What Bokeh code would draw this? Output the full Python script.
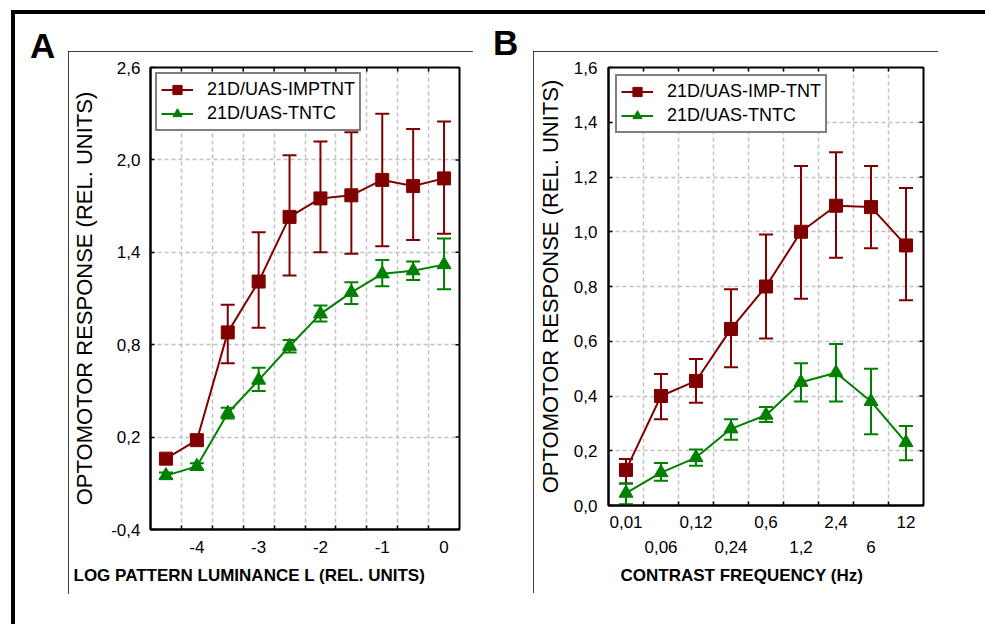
import math
from bokeh.plotting import figure
from bokeh.models import (Range1d, FixedTicker, LinearAxis, Whisker, TeeHead, Title,
                          ColumnDataSource, CustomJSTickFormatter, Div, Spacer)
from bokeh.layouts import row
from bokeh.embed import file_html
from bokeh.resources import INLINE

FONT = "Liberation Sans"
RED = "#800000"
GREEN = "#008000"
GRID = "#c0c0c0"

# ---------------- data: panel A ----------------
a_x = [-4.5, -4.0, -3.5, -3.0, -2.5, -2.0, -1.5, -1.0, -0.5, 0.0]
a_imp = [0.06, 0.18, 0.88, 1.21, 1.63, 1.75, 1.77, 1.87, 1.83, 1.88]
a_imp_hi = [0.08, 0.21, 1.06, 1.53, 2.03, 2.12, 2.18, 2.30, 2.20, 2.25]
a_imp_lo = [0.04, 0.15, 0.68, 0.91, 1.25, 1.40, 1.39, 1.44, 1.48, 1.52]
a_tntc = [-0.05, 0.01, 0.355, 0.57, 0.79, 1.00, 1.14, 1.26, 1.28, 1.32]
a_tntc_hi = [-0.03, 0.03, 0.39, 0.65, 0.83, 1.055, 1.205, 1.35, 1.34, 1.49]
a_tntc_lo = [-0.07, -0.01, 0.32, 0.50, 0.75, 0.95, 1.065, 1.18, 1.22, 1.16]
a_xticks = [-4, -3, -2, -1, 0]
a_yticks = [-0.4, 0.2, 0.8, 1.4, 2.0, 2.6]

# ---------------- data: panel B ----------------
b_labels = ["0,01", "0,06", "0,12", "0,24", "0,6", "1,2", "2,4", "6", "12"]
b_imp = [0.13, 0.40, 0.455, 0.645, 0.80, 1.00, 1.095, 1.09, 0.95]
b_imp_hi = [0.17, 0.48, 0.535, 0.79, 0.99, 1.24, 1.29, 1.24, 1.16]
b_imp_lo = [0.08, 0.315, 0.375, 0.505, 0.61, 0.755, 0.905, 0.94, 0.75]
b_tntc = [0.045, 0.12, 0.175, 0.28, 0.33, 0.45, 0.485, 0.38, 0.23]
b_tntc_hi = [0.08, 0.155, 0.205, 0.315, 0.36, 0.52, 0.59, 0.50, 0.29]
b_tntc_lo = [0.005, 0.09, 0.145, 0.24, 0.305, 0.38, 0.38, 0.26, 0.165]
b_yticks = [0.0, 0.2, 0.4, 0.6, 0.8, 1.0, 1.2, 1.4, 1.6]

YLABEL = "OPTOMOTOR RESPONSE (REL. UNITS)"
XLABEL_A = "LOG PATTERN LUMINANCE L (REL. UNITS)"
XLABEL_B = "CONTRAST FREQUENCY (Hz)"
NAME_IMP_A = "21D/UAS-IMPTNT"
NAME_IMP_B = "21D/UAS-IMP-TNT"
NAME_TNTC = "21D/UAS-TNTC"

comma_fmt = CustomJSTickFormatter(code="return tick.toFixed(1).replace('.', ',');")


def style_axis(ax):
    ax.axis_line_color = "black"
    ax.axis_line_width = 2
    ax.major_tick_line_color = "black"
    ax.major_tick_line_width = 1.5
    ax.major_tick_in = 4
    ax.major_tick_out = 0
    ax.minor_tick_line_color = "black"
    ax.minor_tick_line_width = 1.5
    ax.minor_tick_in = 4
    ax.minor_tick_out = 0
    ax.major_label_text_font = FONT
    ax.major_label_text_font_size = "17px"
    ax.major_label_text_color = "black"


def make_fig(w, h, xr, yr, mbl, mbr, mbt, mbb, margin):
    p = figure(width=w, height=h, x_range=xr, y_range=yr, output_backend="svg",
               toolbar_location=None, min_border_left=mbl, min_border_right=mbr,
               min_border_top=mbt, min_border_bottom=mbb, frame_align=False,
               background_fill_color="white", border_fill_color="white",
               outline_line_color="black", outline_line_width=2, margin=margin,
               styles={"outline": "2px solid black", "outline-offset": "-2px"})
    for g in (p.xgrid[0], p.ygrid[0]):
        g.grid_line_color = GRID
        g.grid_line_width = 1.5
        g.grid_line_dash = "4 3"
    return p


def inner_ticks(p, xticks, yticks):
    # inward tick marks on the top and right frame edges (half of each dash is clipped)
    xr, yr = p.x_range, p.y_range
    p.scatter(xticks, [yr.end] * len(xticks), marker="dash", angle=math.pi / 2, size=8,
              line_color="black", line_width=1.5)
    p.scatter([xr.end] * len(yticks), yticks, marker="dash", size=8,
              line_color="black", line_width=1.5)


def add_series(p, xs, ys, hi, lo, color, marker, size, label):
    src = ColumnDataSource(dict(x=xs, y=ys, hi=hi, lo=lo))
    w = Whisker(base="x", upper="hi", lower="lo", source=src, line_color=color, line_width=2,
                upper_head=TeeHead(size=14, line_color=color, line_width=2),
                lower_head=TeeHead(size=14, line_color=color, line_width=2))
    p.add_layout(w)
    p.line("x", "y", source=src, line_color=color, line_width=2, legend_label=label)
    p.scatter("x", "y", source=src, marker=marker, size=size, color=color, legend_label=label)


def style_legend(p, margin):
    lg = p.legend[0]
    lg.location = "top_left"
    lg.margin = margin
    lg.padding = 4
    lg.spacing = 1
    lg.border_line_color = "black"
    lg.border_line_width = 2
    lg.background_fill_color = "white"
    lg.background_fill_alpha = 1
    lg.label_text_font = FONT
    lg.label_text_font_size = "18px"
    lg.label_text_color = "black"
    lg.glyph_width = 32
    lg.glyph_height = 23
    lg.label_height = 23
    lg.label_standoff = 14


def style_yaxis(ax, standoff):
    ax.axis_label = YLABEL
    ax.axis_label_text_font = FONT
    ax.axis_label_text_font_size = "22px"
    ax.axis_label_text_font_style = "normal"
    ax.axis_label_text_color = "black"
    ax.axis_label_standoff = standoff


def xlabel_title(text, offset):
    return Title(text=text, align="left", offset=offset, text_font=FONT,
                 text_font_size="17px", text_font_style="bold", text_color="black",
                 standoff=16)


def letter(text, w, h, pad_top, pad_left):
    html = ('<div style="padding:%dpx 0 0 %dpx;font-family:\'Liberation Sans\';'
            'font-size:35px;font-weight:bold;line-height:35px;color:black;">%s</div>'
            % (pad_top, pad_left, text))
    return Div(text=html, width=w, height=h, margin=(0, 0, 0, 0))


# ---------------- panel A ----------------
pA = make_fig(405, 543, Range1d(-4.75, 0.25), Range1d(-0.4, 2.6), 82, 14, 16, 65,
              (37, 0, 30, 0))
a_bounds = [(a_x[i] + a_x[i + 1]) / 2 for i in range(len(a_x) - 1)]
pA.xgrid[0].ticker = FixedTicker(ticks=a_bounds)
pA.ygrid[0].ticker = FixedTicker(ticks=a_yticks[1:-1])

axA = pA.xaxis[0]
axA.ticker = FixedTicker(ticks=a_xticks, minor_ticks=a_bounds)
axA.formatter = CustomJSTickFormatter(code="return tick.toFixed(0);")
style_axis(axA)
axA.major_tick_in = 0
axA.major_label_standoff = 11

ayA = pA.yaxis[0]
ayA.ticker = FixedTicker(ticks=a_yticks)
ayA.formatter = comma_fmt
style_axis(ayA)
ayA.major_label_standoff = 10
style_yaxis(ayA, 11)

pA.add_layout(xlabel_title(XLABEL_A, -77), "below")
inner_ticks(pA, a_bounds, a_yticks)

add_series(pA, a_x, a_imp, a_imp_hi, a_imp_lo, RED, "square", 13, NAME_IMP_A)
add_series(pA, a_x, a_tntc, a_tntc_hi, a_tntc_lo, GREEN, "triangle", 14, NAME_TNTC)
style_legend(pA, 5)

# ---------------- panel B ----------------
b_x = list(range(len(b_labels)))
pB = make_fig(405, 542, Range1d(-0.5, len(b_labels) - 0.5), Range1d(0.0, 1.6), 75, 15, 16, 88,
              (37, 0, 0, 0))
b_bounds = [i + 0.5 for i in b_x[:-1]]
pB.xgrid[0].ticker = FixedTicker(ticks=b_bounds)
pB.ygrid[0].ticker = FixedTicker(ticks=b_yticks[1:-1])

lab_fmt = CustomJSTickFormatter(args=dict(labels=b_labels),
                                code="return labels[Math.round(tick)];")
axB = pB.xaxis[0]
axB.ticker = FixedTicker(ticks=b_x[0::2], minor_ticks=b_bounds)
axB.formatter = lab_fmt
style_axis(axB)
axB.major_tick_in = 0
axB.major_label_standoff = 10

axB2 = LinearAxis(ticker=FixedTicker(ticks=b_x[1::2]), formatter=lab_fmt)
style_axis(axB2)
axB2.axis_line_alpha = 0
axB2.major_tick_in = 0
axB2.minor_tick_in = 0
axB2.major_label_standoff = 10
pB.add_layout(axB2, "below")

ayB = pB.yaxis[0]
ayB.ticker = FixedTicker(ticks=b_yticks)
ayB.formatter = comma_fmt
style_axis(ayB)
ayB.major_label_standoff = 11
style_yaxis(ayB, 8)

pB.add_layout(xlabel_title(XLABEL_B, 12), "below")
inner_ticks(pB, b_bounds, b_yticks)

add_series(pB, b_x, b_imp, b_imp_hi, b_imp_lo, RED, "square", 13, NAME_IMP_B)
add_series(pB, b_x, b_tntc, b_tntc_hi, b_tntc_lo, GREEN, "triangle", 14, NAME_TNTC)
style_legend(pB, 7)

# ---------------- page layout ----------------
divA = letter("A", 53, 60, 14, 15)
divB = letter("B", 60, 60, 11, 20)
layout = row(divA, pA, divB, pB, Spacer(width=47, height=10),
             margin=(10, 0, 0, 11),
             styles={"border-top": "4px solid black", "border-left": "4px solid black"})
open("out.html", "w").write(file_html(layout, INLINE))
